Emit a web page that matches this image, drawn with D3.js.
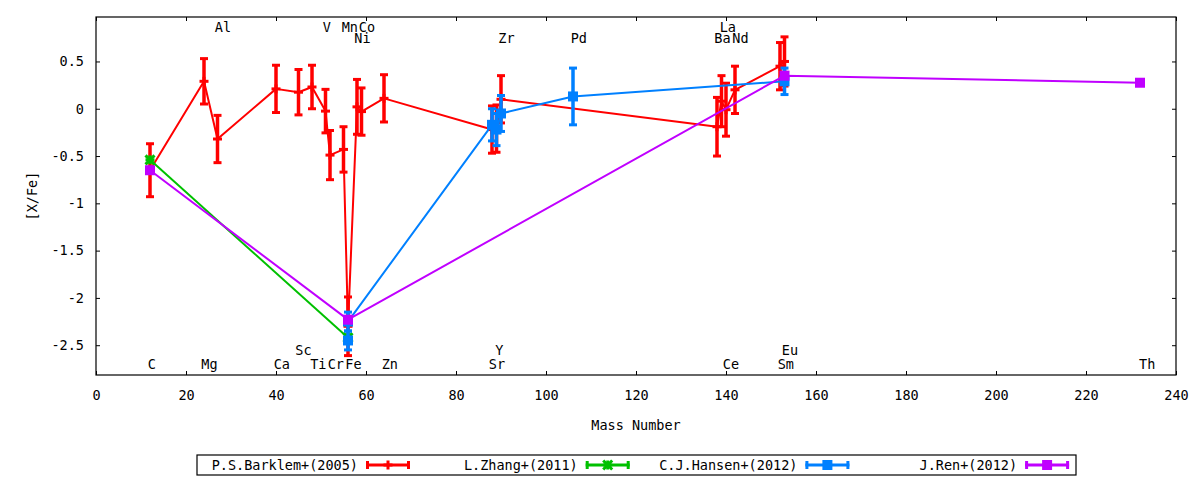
<!DOCTYPE html>
<html>
<head>
<meta charset="utf-8">
<script src="https://cdn.jsdelivr.net/npm/d3@7"></script>
<style>
  html, body { margin: 0; padding: 0; background: #fff; }
  svg { display: block; }
  text { font-family: "DejaVu Sans Mono", "Liberation Mono", monospace; font-size: 13.5px; fill: #000; }
</style>
</head>
<body>
<svg id="chart" width="1200" height="480"></svg>
<script>
// ---- data ----
const xTicks = [0, 20, 40, 60, 80, 100, 120, 140, 160, 180, 200, 220, 240];
const yTicks = [0.5, 0, -0.5, -1, -1.5, -2, -2.5];
const yTickLabels = ["0.5", "0", "-0.5", "-1", "-1.5", "-2", "-2.5"];

const seriesNames = ["P.S.Barklem+(2005)", "L.Zhang+(2011)", "C.J.Hansen+(2012)", "J.Ren+(2012)"];
const seriesColors = ["#ff0000", "#00c000", "#0080ff", "#c000ff"];

// Barklem: mass, [X/Fe], error
const barklemMass = [12, 24, 27, 40, 45, 48, 51, 52, 55, 56, 58, 59, 64, 88, 89, 90, 138, 139, 140, 142, 152, 153];
const barklemVal  = [-0.65, 0.29, -0.32, 0.21, 0.175, 0.23, -0.025, -0.49, -0.43, -2.3, 0.02, -0.03, 0.11, -0.22, -0.21, 0.1, -0.19, 0.08, -0.01, 0.2, 0.45, 0.5];
const barklemErr  = [0.28, 0.24, 0.25, 0.25, 0.24, 0.23, 0.23, 0.26, 0.24, 0.31, 0.29, 0.25, 0.25, 0.25, 0.25, 0.25, 0.31, 0.27, 0.28, 0.25, 0.25, 0.26];

const zhangMass = [12, 56];
const zhangVal  = [-0.54, -2.42];
const zhangErr  = [0, 0];

const hansenMass = [56, 56, 88, 89, 90, 106, 153];
const hansenVal  = [-2.45, -2.25, -0.17, -0.22, -0.05, 0.13, 0.29];
const hansenErr  = [0.1, 0.1, 0.17, 0.17, 0.19, 0.3, 0.14];

const renMass = [12, 56, 153, 232];
const renVal  = [-0.65, -2.23, 0.35, 0.275];
const renErr  = [0, 0, 0, 0];

// element labels: name, x position, y position (data units)
const labelNames = ["Al", "V", "Mn", "Co", "Ni", "Zr", "Pd", "La", "Ba", "Nd",
                    "C", "Mg", "Ca", "Sc", "Ti", "Cr", "Fe", "Zn", "Sr", "Y", "Ce", "Sm", "Eu", "Th"];
const labelX = [28.2, 51.3, 56.4, 60.2, 59.2, 91.2, 107.3, 140.4, 139.2, 143.2,
                12.4, 25.2, 41.3, 46.1, 49.4, 53.3, 57.2, 65.3, 89.1, 89.6, 141.1, 153.3, 154.2, 233.6];
const labelY = [0.86, 0.86, 0.86, 0.86, 0.745, 0.745, 0.745, 0.86, 0.745, 0.745,
                -2.70, -2.70, -2.70, -2.55, -2.70, -2.70, -2.70, -2.70, -2.70, -2.55, -2.70, -2.70, -2.55, -2.70];

// ---- layout ----
const svg = d3.select("#chart");
const L = 96, R = 1176, T = 17, B = 375;
const x = d3.scaleLinear().domain([0, 240]).range([L, R]);
const y = d3.scaleLinear().domain([-2.815, 0.97]).range([B, T]);

// axes (ticks inward, mirrored)
const gx = svg.append("g").attr("transform", `translate(0,${B})`)
  .call(d3.axisBottom(x).tickValues(xTicks).tickFormat(d3.format("d")).tickSizeInner(-4).tickSizeOuter(0).tickPadding(15));
const gxt = svg.append("g").attr("transform", `translate(0,${T})`)
  .call(d3.axisTop(x).tickValues(xTicks).tickFormat("").tickSizeInner(-4).tickSizeOuter(0));
const gy = svg.append("g").attr("transform", `translate(${L},0)`)
  .call(d3.axisLeft(y).tickValues(yTicks).tickFormat((d, i) => yTickLabels[i]).tickSizeInner(-4).tickSizeOuter(0).tickPadding(12));
const gyr = svg.append("g").attr("transform", `translate(${R},0)`)
  .call(d3.axisRight(y).tickValues(yTicks).tickFormat("").tickSizeInner(-4).tickSizeOuter(0));
[gx, gxt, gy, gyr].forEach(g => {
  g.select(".domain").remove();
  g.selectAll(".tick line").attr("stroke", "#000").attr("stroke-width", 1);
  g.selectAll("text").attr("font-family", null).attr("font-size", null).style("fill", "#000");
});

// frame
svg.append("rect").attr("x", L).attr("y", T).attr("width", R - L).attr("height", B - T)
  .attr("fill", "none").attr("stroke", "#000").attr("stroke-width", 1.2);

// axis titles
svg.append("text").attr("x", (L + R) / 2).attr("y", 425).attr("text-anchor", "middle")
  .attr("dominant-baseline", "central").text("Mass Number");
svg.append("text").attr("transform", `translate(32,${(T + B) / 2}) rotate(-90)`)
  .attr("text-anchor", "middle").attr("dominant-baseline", "central").text("[X/Fe]");

// element labels
svg.append("g").selectAll("text").data(labelNames).join("text")
  .attr("x", (d, i) => x(labelX[i])).attr("y", (d, i) => y(labelY[i]))
  .attr("text-anchor", "middle").attr("dominant-baseline", "central").text(d => d);

// ---- series ----
function marker(g, type, cx, cy, color) {
  if (type === "plus") {
    g.append("line").attr("x1", cx - 4.5).attr("x2", cx + 4.5).attr("y1", cy).attr("y2", cy)
      .attr("stroke", color).attr("stroke-width", 3);
    g.append("line").attr("x1", cx).attr("x2", cx).attr("y1", cy - 4.5).attr("y2", cy + 4.5)
      .attr("stroke", color).attr("stroke-width", 3);
  } else if (type === "star") {
    const s = 4.5;
    [[-s, 0, s, 0], [0, -s, 0, s], [-s, -s, s, s], [-s, s, s, -s]].forEach(p => {
      g.append("line").attr("x1", cx + p[0]).attr("y1", cy + p[1]).attr("x2", cx + p[2]).attr("y2", cy + p[3])
        .attr("stroke", color).attr("stroke-width", 3);
    });
  } else {
    g.append("rect").attr("x", cx - 5).attr("y", cy - 5).attr("width", 10).attr("height", 10).attr("fill", color);
  }
}

const series = [
  { mass: barklemMass, val: barklemVal, err: barklemErr, color: seriesColors[0], mk: "plus" },
  { mass: zhangMass, val: zhangVal, err: zhangErr, color: seriesColors[1], mk: "star" },
  { mass: hansenMass, val: hansenVal, err: hansenErr, color: seriesColors[2], mk: "square" },
  { mass: renMass, val: renVal, err: renErr, color: seriesColors[3], mk: "square" }
];

const line = d3.line().x(d => x(d[0])).y(d => y(d[1]));
series.forEach(s => {
  const g = svg.append("g");
  const pts = s.mass.map((m, i) => [m, s.val[i], s.err[i]]);
  g.append("path").datum(pts).attr("d", line).attr("fill", "none")
    .attr("stroke", s.color).attr("stroke-width", 2).attr("stroke-linejoin", "round");
  pts.forEach(p => {
    if (p[2] > 0) {
      const cx = x(p[0]), y1 = y(p[1] - p[2]), y2 = y(p[1] + p[2]);
      g.append("line").attr("x1", cx).attr("x2", cx).attr("y1", y1).attr("y2", y2)
        .attr("stroke", s.color).attr("stroke-width", 3.5);
      [y1, y2].forEach(yy => g.append("line").attr("x1", cx - 4).attr("x2", cx + 4).attr("y1", yy).attr("y2", yy)
        .attr("stroke", s.color).attr("stroke-width", 3));
    }
  });
  pts.forEach(p => marker(g, s.mk, x(p[0]), y(p[1]), s.color));
});

// ---- legend ----
const lg = svg.append("g");
lg.append("rect").attr("x", 197).attr("y", 455).attr("width", 879).attr("height", 20)
  .attr("fill", "#fff").attr("stroke", "#000").attr("stroke-width", 1.2);
seriesNames.forEach((name, i) => {
  const tx = 358 + i * 219.7, cy = 465;
  lg.append("text").attr("x", tx).attr("y", cy).attr("text-anchor", "end")
    .attr("dominant-baseline", "central").text(name);
  const x1 = tx + 8, x2 = tx + 52, c = series[i].color;
  lg.append("line").attr("x1", x1).attr("x2", x2).attr("y1", cy).attr("y2", cy)
    .attr("stroke", c).attr("stroke-width", 3);
  [x1 + 1.5, x2 - 1.5].forEach(xx => lg.append("line").attr("x1", xx).attr("x2", xx)
    .attr("y1", cy - 4).attr("y2", cy + 4).attr("stroke", c).attr("stroke-width", 3));
  marker(lg, series[i].mk, (x1 + x2) / 2, cy, c);
});
</script>
</body>
</html>
